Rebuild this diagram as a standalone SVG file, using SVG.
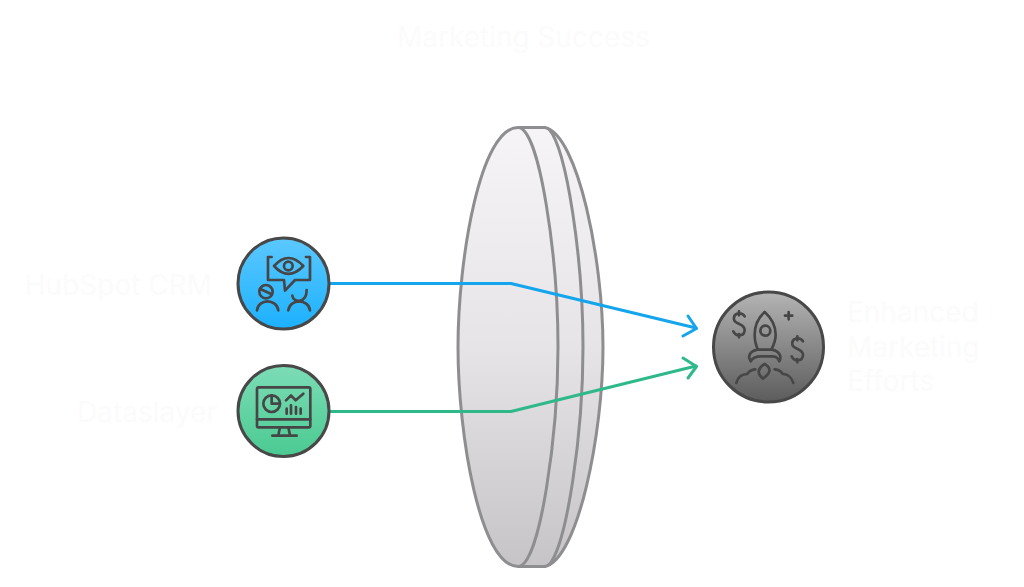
<svg xmlns="http://www.w3.org/2000/svg" width="1024" height="587" viewBox="0 0 1024 587">
<style>
.lens{stroke:#8e8d90;stroke-width:3;stroke-linejoin:round}
.nf{fill:none}
.ring{stroke:#484848;stroke-width:3}
.ic{fill:none;stroke:#464646;stroke-width:8;stroke-linecap:round;stroke-linejoin:round}
.lb{font-family:"Inter","Liberation Sans",Arial,sans-serif;font-size:28px;fill:#fcfbfc}
.c{fill:none;stroke-width:3;stroke-linecap:round;stroke-linejoin:round}
</style>
<defs>
<linearGradient id="gl" x1="0" y1="0" x2="0" y2="1"><stop offset="0" stop-color="#f6f4f7"/><stop offset="0.5" stop-color="#e6e4e7"/><stop offset="1" stop-color="#c6c4c7"/></linearGradient>
<linearGradient id="gb" x1="0" y1="0" x2="0" y2="1"><stop offset="0" stop-color="#5cc8ff"/><stop offset="1" stop-color="#1cb1fe"/></linearGradient>
<linearGradient id="gg" x1="0" y1="0" x2="0" y2="1"><stop offset="0" stop-color="#7cdcb6"/><stop offset="1" stop-color="#4bca92"/></linearGradient>
<linearGradient id="gk" x1="0" y1="0" x2="0" y2="1"><stop offset="0" stop-color="#b4b4b4"/><stop offset="1" stop-color="#5c5c5c"/></linearGradient>
</defs>
<rect width="1024" height="587" fill="#ffffff"/>
<g id="title"><text class="lb" x="397" y="47">Marketing Success</text></g>
<g id="lens">
<path d="M518,127.500 L545,127.500 C578,135 603,260 603,347 C603,434 578,559 545,566.500 L518,566.500 C480,566.500 458,434 458,347 C458,260 480,127.500 518,127.500 Z" fill="url(#gl)" class="lens"/>
<path class="lens nf" d="M518,127.500 C540,127.500 558,260 558,347 C558,434 540,566.500 518,566.500"/>
<path class="lens nf" d="M549,129 C567,150 583,260 583,347 C583,434 567,544 549,565"/>
</g>
<g id="connectors">
<path class="c" stroke="#14a5ec" d="M330,283.500 L511,283.500 L696,328"/>
<path class="c" stroke="#14a5ec" d="M688,316 L696.500,328.500 L683,336"/>
<path class="c" stroke="#2fb98a" d="M330,411.500 L511,411.500 L696,366"/>
<path class="c" stroke="#2fb98a" d="M683,358 L696.500,366.500 L688,378"/>
</g>
<g id="node-hubspot">
<circle class="ring" cx="283.500" cy="283.500" r="45.500" fill="url(#gb)"/>
<g transform="translate(235,235) scale(.3333)" class="ic">
<path d="M110,66H99V135H147L150,167L180,135H225V66H213"/>
<path d="M117,93Q160,45 205,93Q160,140 117,93Z"/>
<circle cx="160" cy="93" r="13"/>
<circle cx="93" cy="170" r="20"/>
<path d="M76,162L110,178"/>
<path d="M66,226C70,190 125,190 130,226"/>
<path d="M172,182C175,205 215,205 215,165"/>
<path d="M160,226C165,190 220,190 225,226"/>
</g>
<text class="lb" x="212" y="295" text-anchor="end">HubSpot CRM</text>
</g>
<g id="node-dataslayer">
<circle class="ring" cx="283.500" cy="411" r="45.500" fill="url(#gg)"/>
<g transform="translate(235,362) scale(.3333)" class="ic">
<rect x="66" y="76" width="160" height="120" rx="5"/>
<path d="M66,172H226M135,196L130,220M160,196L165,220M112,221H185"/>
<circle cx="110" cy="125" r="25"/>
<path d="M110,100V125H135"/>
<path d="M153,115L168,100L182,115L205,95"/>
<path d="M155,140V155M168,130V155M183,135V155M197,140V155"/>
</g>
<text class="lb" x="217" y="422" text-anchor="end">Dataslayer</text>
</g>
<g id="node-enhanced">
<circle class="ring" cx="768.500" cy="347" r="55" fill="url(#gk)"/>
<g transform="translate(708,288) scale(.3333)" class="ic">
<path d="M110,85C100,70 75,75 78,95C80,110 108,105 110,125C110,145 85,148 76,130M93,70V82M93,138V148"/>
<path d="M285,160C275,145 250,150 253,170C255,185 283,180 285,200C285,220 260,223 251,205M268,145V157M268,213V223"/>
<path d="M170,72C150,90 140,115 140,140C140,160 145,175 150,185H190C195,175 203,160 203,140C203,115 190,90 170,72Z"/>
<circle cx="172" cy="128" r="15"/>
<path d="M148,185C125,190 118,205 128,220C135,205 150,205 160,205H190C200,205 208,205 214,220C222,205 215,190 192,185"/>
<path d="M170,228C150,240 145,255 165,272C190,255 190,240 170,228Z"/>
<path d="M85,285C90,265 105,258 118,258C122,250 132,245 142,244"/>
<path d="M256,285C250,265 235,258 224,258C220,250 210,245 200,244"/>
<path d="M242,72V94M231,83H253"/>
</g>
<text class="lb" x="847" y="322">Enhanced</text>
<text class="lb" x="847" y="357">Marketing</text>
<text class="lb" x="847" y="391">Efforts</text>
</g>
</svg>
